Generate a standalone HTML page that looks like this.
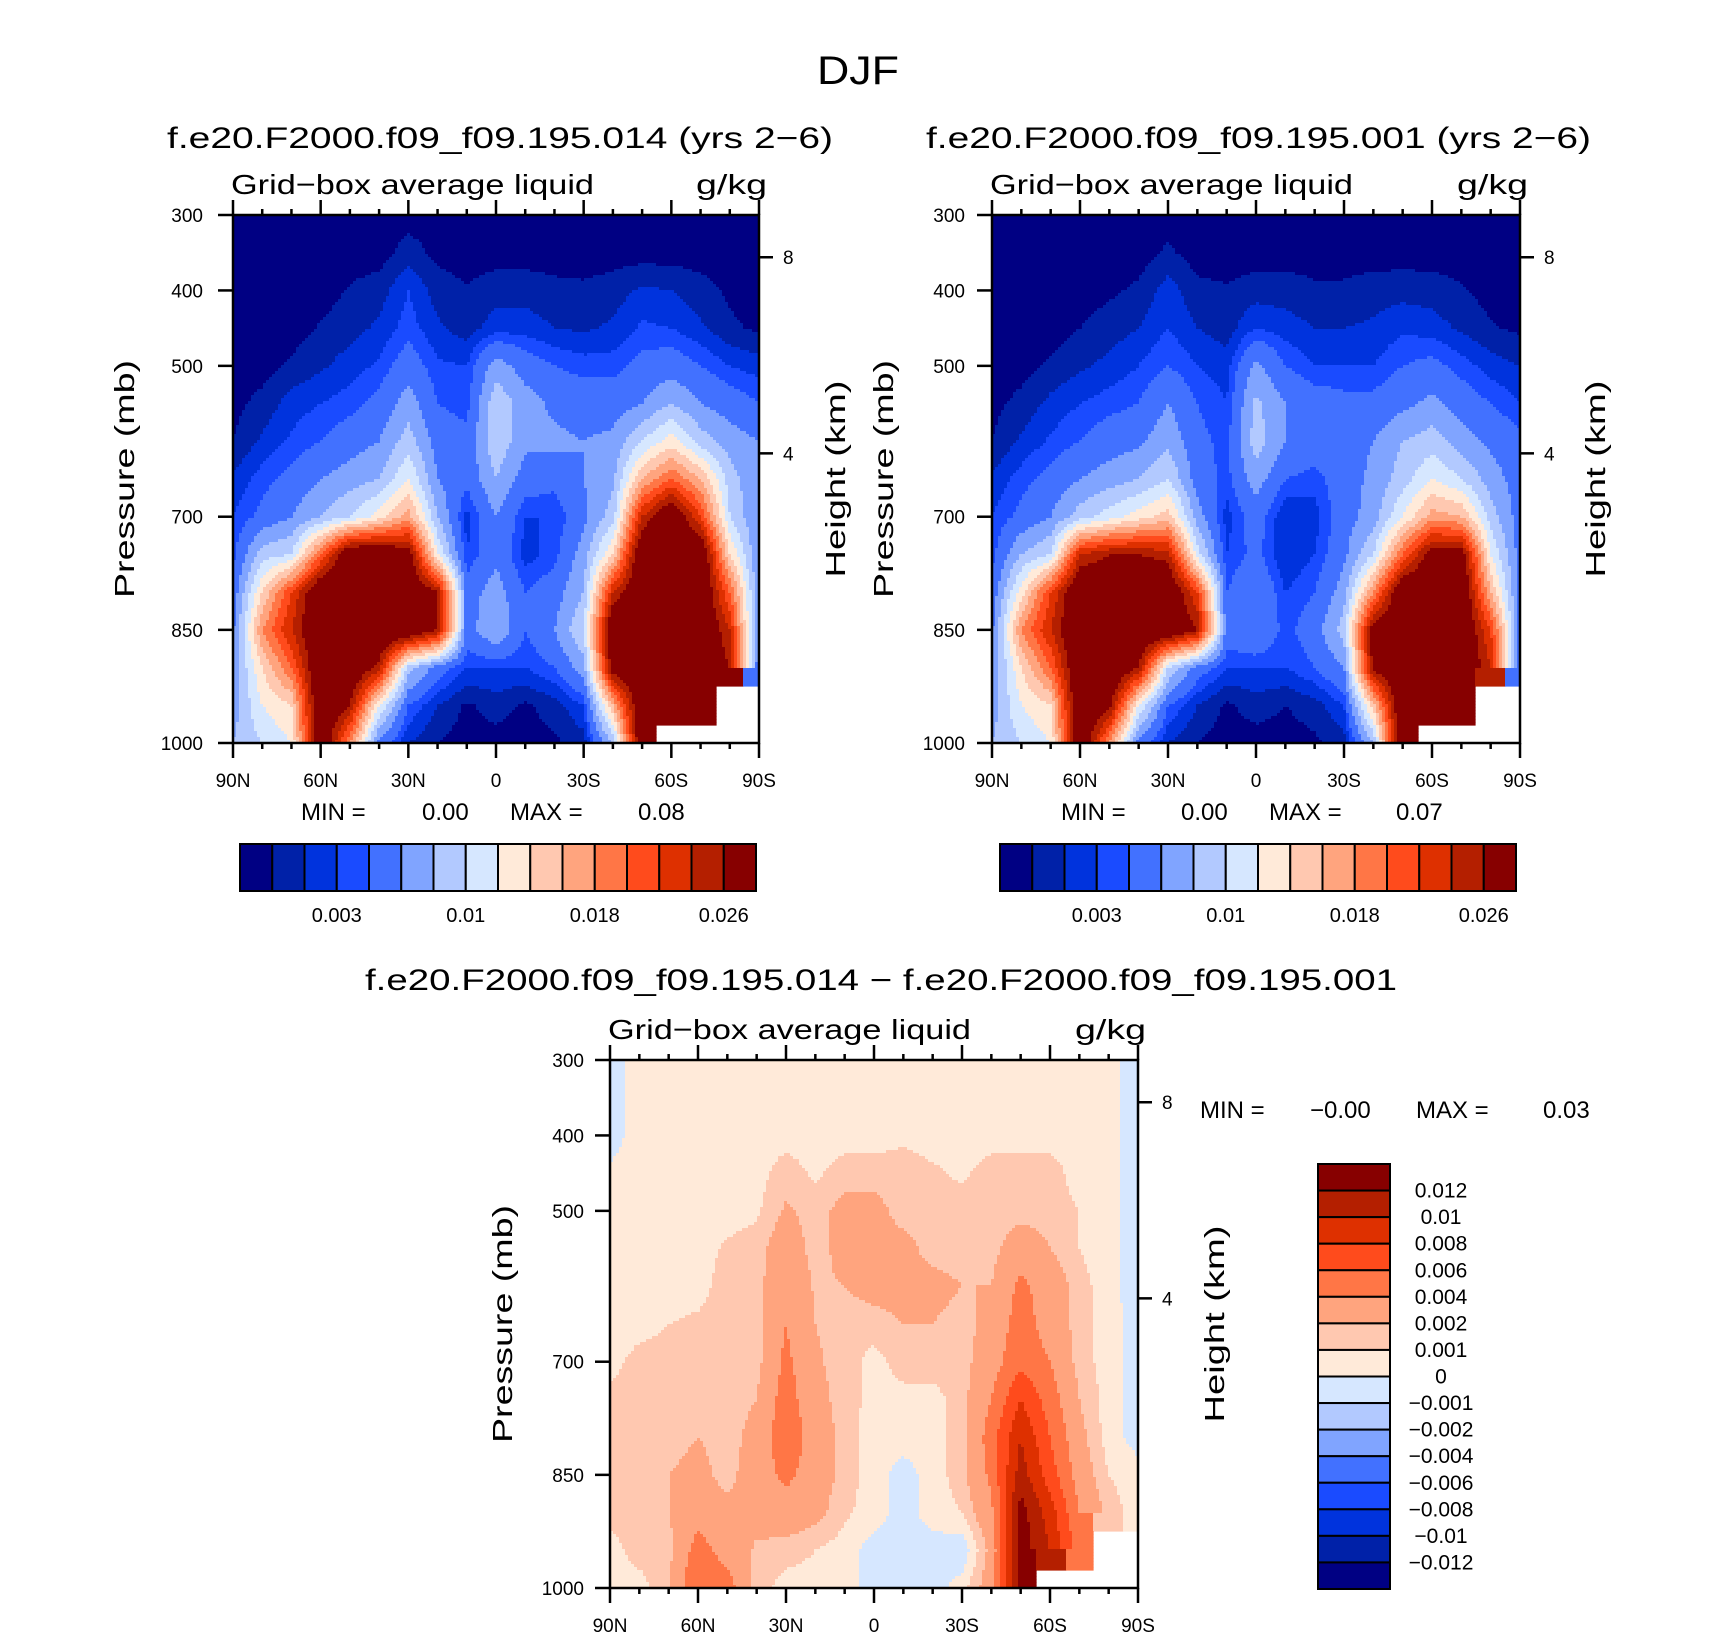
<!DOCTYPE html>
<html><head><meta charset="utf-8"><title>DJF</title>
<style>
html,body{margin:0;padding:0;background:#fff;}
svg{display:block;font-family:"Liberation Sans",sans-serif;}
</style></head>
<body>
<svg id="fig" width="1710" height="1636" viewBox="0 0 1710 1636" xmlns="http://www.w3.org/2000/svg">
<rect x="0" y="0" width="1710" height="1636" fill="#fff"/>
<text x="858" y="84" font-size="40" text-anchor="middle" textLength="82" lengthAdjust="spacingAndGlyphs">DJF</text>
<text x="167" y="148" font-size="30" textLength="666" lengthAdjust="spacingAndGlyphs">f.e20.F2000.f09_f09.195.014 (yrs 2−6)</text>
<text x="926" y="148" font-size="30" textLength="665" lengthAdjust="spacingAndGlyphs">f.e20.F2000.f09_f09.195.001 (yrs 2−6)</text>
<text x="365" y="990" font-size="30" textLength="1032" lengthAdjust="spacingAndGlyphs">f.e20.F2000.f09_f09.195.014 − f.e20.F2000.f09_f09.195.001</text>
<g id="layer"></g>
</svg>
<script>
// ---- data (values in 1e-3 g/kg), rows: pressure 300..1000 step 50; cols: 90N..90S step 10
const lats = [90,80,70,60,50,40,30,20,10,0,-10,-20,-30,-40,-50,-60,-70,-80,-90];
const pressures = [300,350,400,450,500,550,600,650,700,750,800,850,900,950,1000];
const field1 = [
[.5,.5,.5,.5,.5,.5,.5,.5,.5,.5,.5,.5,.5,.5,.5,.5,.5,.5,.5],
[.5,.5,.5,.5,.5,.5,1.5,.7,.5,.5,.5,.5,.5,.5,.5,.5,.5,.5,.5],
[.5,.5,.5,.5,1.1,1.5,3,1.5,1.1,1.6,1.6,1.3,1.2,1.5,2.2,2.0,1.4,.8,.5],
[.5,.5,.5,1.1,1.6,2.2,3.5,2.2,1.5,2.5,2.5,2.0,1.8,2.2,3.2,3.0,2.2,1.2,.8],
[.5,.6,1.2,1.8,2.5,3.2,5,3.2,3,7,5,4,3.5,3.5,4.5,5,4,3,2.5],
[.7,1.3,2.5,3,3.5,4.5,7,4,3.5,9.5,7,5.5,5,5,6,8,6,5,4],
[1.0,2.2,3.2,4,5,6,9,5,4.5,9.5,6.5,6.5,6,6.5,10,13,9,7,6],
[2.2,3.5,4.5,6,7,8,12,6,4.5,8,5,4.5,6,7.5,16,20,16,9,6],
[3,4.5,6,8,10,13,17,8,2.5,6,3,3,5.5,9,24,30,22,10,6],
[3.5,9,10,20,30,30,28,12,3,5.5,2.5,3.5,7,14,30,30,30,14,6],
[4.5,14,22,30,30,30,30,26,5,7,4,5,8,24,30,30,30,20,6],
[5.5,18,24,30,30,30,30,26,5,8,4,6,10,30,30,30,30,24,5],
[6.5,14,20,30,30,25,9,5,3,3,3,4,7,28,30,30,30,26,4],
[7,12,14,30,26,12,4,2,.8,1.5,.8,1.5,3,16,30,30,30,null,null],
[8,10,12,30,18,5,2,1,.5,.5,.5,.8,1.5,8,30,null,null,null,null]
];
const field2 = [
[.5,.5,.5,.5,.5,.5,.5,.5,.5,.5,.5,.5,.5,.5,.5,.5,.5,.5,.5],
[.5,.5,.5,.5,.5,.5,1.2,.5,.5,.5,.5,.5,.5,.5,.5,.5,.5,.5,.5],
[.5,.5,.5,.5,.8,1.2,2.5,1.3,1.1,1.5,1.5,1.2,1.2,1.5,1.6,1.5,1.1,.6,.5],
[.5,.5,.5,1,1.5,2,3,2,1.5,3,2.5,2,2,2.2,2.8,2.5,1.8,1.1,.8],
[.5,.6,1.2,1.8,2.3,3,4,3,2.5,6.5,4,3,3,3,4,4.5,3.5,2.5,2],
[.7,1.3,2.3,3,3.5,4,6,4,3,8.5,6,5,4.5,4.5,5.5,6.5,5,4,3],
[1.0,2.2,3.2,4,5,5.5,7.5,4.5,3.5,9,6,5,5,6,8,9,7,5.5,4.5],
[2.2,3.5,4.5,6,7,8,10,5,3.5,7,4,3.5,5,6.5,9,12,10,7,5],
[3,4.5,6,9,11,13,15,7,2.5,5,2,2.5,5,7,12,17,16,9,5],
[3.5,8,10,24,26,26,25,11,3,4.5,2,3,5.5,10,20,28,28,12,5],
[4.5,13,22,30,30,30,30,22,4,6,3,4,7,18,30,30,30,16,5],
[5.5,18,24,30,30,30,30,26,5,6,3.5,5,9,28,30,30,30,22,5],
[6,14,20,30,30,26,10,5,3,3,3,4,6,27,30,30,30,24,4],
[7,12,14,30,27,12,4,2,.8,1.5,1,1.5,3,15,30,30,30,null,null],
[8,10,12,30,18,5,2,1,.5,.5,.5,.8,1.5,8,30,null,null,null,null]
];
const field3 = [
[-.5,.5,.5,.5,.5,.5,.5,.5,.5,.5,.5,.5,.5,.5,.5,.5,.5,.3,-.5],
[-.5,.5,.5,.5,.5,.5,.5,.5,.5,.5,.5,.5,.5,.5,.5,.5,.5,.3,-.5],
[-.5,.5,.5,.5,.5,.5,.6,.5,.5,.5,.8,.5,.5,.5,.5,.5,.5,.3,-.5],
[.2,.5,.5,.5,.5,.6,1.5,.8,1.5,1.5,1.5,1.2,.8,1.5,1.5,1.5,.5,.3,-.5],
[.2,.5,.5,.5,.5,.8,2.2,1.5,2.5,2.5,1.5,1.5,1.5,1.5,1.5,1.5,1,.3,-.5],
[.2,.5,.5,.5,1.2,1.5,3,1.5,2.5,2.5,2.5,1.5,1.5,1.5,3,2,1,.3,-.5],
[.2,.5,.5,.6,1.5,1.5,3.5,1.8,2,2.5,2.5,2.5,2,2,4.5,3,1.5,.3,-.5],
[.2,.5,1,1.2,1.5,1.6,4,2,1.5,1.5,2,2,1.5,2.5,5,3,1.5,.5,-.5],
[.5,1.5,1.5,1.5,1.5,1.5,4.5,2.2,1.5,.6,1.5,1.5,1.5,3,5.5,4,1.5,.5,-.5],
[1.5,1.5,1.5,1.8,1.5,2,5,2.5,1.5,.6,.6,.6,1.5,4,8,5,2,.5,-.5],
[1.5,1.5,1.5,2,1.5,2.5,5.5,3,1.5,.5,.5,.5,1.5,5,10,6,2.5,.5,-.5],
[1.5,1.5,2,2.5,1.5,3,4.5,3,1.5,.5,-.5,.5,1.5,4.5,11,7,3,1,.5],
[1.5,1.5,2,3,2.5,2.5,3,2.5,1.2,.5,-.5,.5,1,3.5,13,9,4,1.5,.5],
[.5,1.5,1.5,5,3,1.8,1.5,1,.5,-.5,-.5,-.5,-.8,2.5,13,10,5,null,null],
[.5,.5,2,6,5,1.5,.5,.5,.5,-.5,-.5,-.5,.5,3,13,null,null,null,null]
];
const levelsAbs = [1,2,3,4,6,8,10,12,14,16,18,20,22,24,26];
const levelsDiff = [-12,-10,-8,-6,-4,-2,-1,0,1,2,4,6,8,10,12];
const colors = ['#000083','#0021a8','#0033dd','#1a4bff','#4271ff','#80a4ff','#b2c9ff','#d6e7ff','#ffead9','#ffc8b0','#ffa47e','#ff7646','#ff4b1c','#de3000','#b41f00','#870000'];
const absTickLabels = ['0.003','0.01','0.018','0.026'];
const absTickIdx = [3,7,11,15];
const diffLabels = ['0.012','0.01','0.008','0.006','0.004','0.002','0.001','0','−0.001','−0.002','−0.004','−0.006','−0.008','−0.01','−0.012'];
const pTicks = [300,400,500,700,850,1000];
const latTicks = [90,60,30,0,-30,-60,-90];
const latTickLabels = ['90N','60N','30N','0','30S','60S','90S'];
const kmTicks = [8,4];
const kmPressure = [356,616];

const NS='http://www.w3.org/2000/svg';
const layer=document.getElementById('layer');
function mk(tag,attrs,parent){const e=document.createElementNS(NS,tag);for(const k in attrs)e.setAttribute(k,attrs[k]);(parent||layer).appendChild(e);return e;}

function sample(field,lat,p){
  const fi=(90-lat)/10, fj=(p-300)/50;
  const i0=Math.max(0,Math.min(17,Math.floor(fi))), j0=Math.max(0,Math.min(13,Math.floor(fj)));
  const ti=fi-i0, tj=fj-j0;
  const a=field[j0][i0],b=field[j0][i0+1],c=field[j0+1][i0],d=field[j0+1][i0+1];
  const ni=Math.round(fi), nj=Math.round(fj);
  const near=field[Math.max(0,Math.min(14,nj))][Math.max(0,Math.min(18,ni))];
  if(near===null) return null;
  if(a===null||b===null||c===null||d===null) return near;
  return (a*(1-ti)+b*ti)*(1-tj)+(c*(1-ti)+d*ti)*tj;
}
function levelIndex(v,levels){let k=0;for(const L of levels){if(v>=L)k++;}return k;}

function panel(name,field,levels,x0,y0,w,h,kx,px,lblEnd){
  const xS=lat=>x0+(90-lat)/180*w;
  const yS=p=>y0+(p-300)/700*h;
  const g=mk('g',{});
  
  
  const st=3;
  for(let py=y0;py<y0+h;py+=st){
    const p=300+(py+st/2-y0)/h*700;
    let runStart=x0,runK=null;
    const flush=(end)=>{if(runK!==null&&runK>=0){const r=mk('rect',{x:runStart,y:py,width:end-runStart+0.6,height:Math.min(st,y0+h-py)+0.6,fill:colors[runK]},g);
      
      }};
    for(let pxx=x0;pxx<x0+w;pxx+=st){
      const lat=90-(pxx+st/2-x0)/w*180;
      const v=sample(field,lat,p);
      const k=v===null?-1:levelIndex(v,levels);
      if(k!==runK){flush(pxx);runStart=pxx;runK=k;}
    }
    flush(x0+w);
  }
  const ax=mk('g',{stroke:'#000','stroke-width':2.5,fill:'none'});
  
  
  mk('rect',{x:x0,y:y0,width:w,height:h},ax);
  for(let lat=90;lat>=-90;lat-=10){
    const major=lat%30===0, L=major?15:6, x=xS(lat);
    mk('line',{x1:x,y1:y0+h,x2:x,y2:y0+h+L},ax);
    mk('line',{x1:x,y1:y0,x2:x,y2:y0-L},ax);
  }
  pTicks.forEach(p=>{mk('line',{x1:x0-15,y1:yS(p),x2:x0,y2:yS(p)},ax);
    const t=mk('text',{x:lblEnd,y:yS(p)+7,'font-size':19,'text-anchor':'end'});t.textContent=p;
    
    });
  kmTicks.forEach((km,i)=>{const y=yS(kmPressure[i]);mk('line',{x1:x0+w,y1:y,x2:x0+w+14,y2:y},ax);
    const t=mk('text',{x:x0+w+24,y:y+7,'font-size':19});t.textContent=km;
    
    });
  latTicks.forEach((lat,i)=>{const t=mk('text',{x:xS(lat),y:y0+h+44,'font-size':19,'text-anchor':'middle'});t.textContent=latTickLabels[i];
    
    });
  let t=mk('text',{x:x0-2,y:y0-21,'font-size':28,textLength:363,lengthAdjust:'spacingAndGlyphs'});t.textContent='Grid−box average liquid';
  
  
  t=mk('text',{x:x0+w+8,y:y0-21,'font-size':28,'text-anchor':'end',textLength:71,lengthAdjust:'spacingAndGlyphs'});t.textContent='g/kg';
  
  
  const cy=y0+h/2;
  t=mk('text',{x:0,y:0,'font-size':28,'text-anchor':'middle',transform:`translate(${px+10},${cy}) rotate(-90)`,textLength:238,lengthAdjust:'spacingAndGlyphs'});t.textContent='Pressure (mb)';
  
  
  t=mk('text',{x:0,y:0,'font-size':28,'text-anchor':'middle',transform:`translate(${kx+10},${cy}) rotate(-90)`,textLength:197,lengthAdjust:'spacingAndGlyphs'});t.textContent='Height (km)';
  
  
}
function txt(s,x,y,fs,name,anchor){const t=mk('text',{x:x,y:y,'font-size':fs,'text-anchor':anchor||'start'});t.textContent=s;
  
  return t;}

function hbar(name,x0,y0,w,h){
  const cw=w/colors.length;
  colors.forEach((c,i)=>{const r=mk('rect',{x:x0+i*cw,y:y0,width:cw,height:h,fill:c,stroke:'#000','stroke-width':2});
    
    });
  absTickLabels.forEach((s,i)=>txt(s,x0+absTickIdx[i]*cw,y0+h+31,20,name+'-label','middle'));
}
function minmax(x1,x2,x3,x4,y,mn,mx,name){
  txt('MIN =',x1,y,24,name+'-min-label');txt(mn,x2,y,24,name+'-min-value');
  txt('MAX =',x3,y,24,name+'-max-label');txt(mx,x4,y,24,name+'-max-value');
}

panel('panel1',field1,levelsAbs,233,215,526,528,835,124,203);
panel('panel2',field2,levelsAbs,992,215,528,528,1595,883,965);
panel('diff',field3,levelsDiff,610,1060,528,528,1214,502,584);
minmax(301,422,510,638,820,'0.00','0.08','panel1');
minmax(1061,1181,1269,1396,820,'0.00','0.07','panel2');
minmax(1200,1310,1416,1543,1118,'−0.00','0.03','diff');
hbar('panel1-colorbar',240,844,516,47);
hbar('panel2-colorbar',1000,844,516,47);
// vertical colorbar for difference
(function(){
  const x0=1318,y0=1164,w=72,h=425,ch=h/colors.length;
  for(let i=0;i<colors.length;i++){
    const r=mk('rect',{x:x0,y:y0+i*ch,width:w,height:ch,fill:colors[colors.length-1-i],stroke:'#000','stroke-width':2});
    
    
  }
  diffLabels.forEach((s,i)=>txt(s,1441,y0+(i+1)*ch+7,21,'diff-colorbar-label','middle'));
})();
</script>
</body></html>
